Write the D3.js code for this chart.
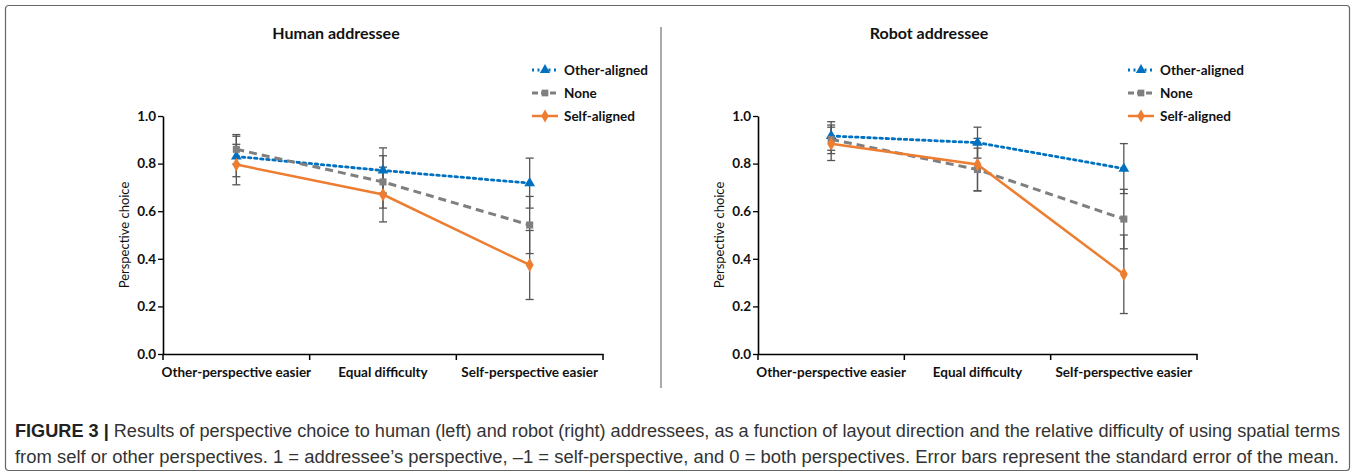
<!DOCTYPE html>
<html><head><meta charset="utf-8">
<script src="https://cdn.jsdelivr.net/npm/d3@7/dist/d3.min.js"></script>
<style>body{margin:0;background:#fff}svg{display:block}</style>
</head><body>
<script>
const categories = ["Other-perspective easier", "Equal difficulty", "Self-perspective easier"];
const seriesNames = ["Other-aligned", "None", "Self-aligned"];
const yTicks = [0, 0.2, 0.4, 0.6, 0.8, 1.0];
const panelTitles = ["Human addressee", "Robot addressee"];
// Human addressee
const humanOther = [0.83, 0.771, 0.718];
const humanNone = [0.86, 0.723, 0.542];
const humanSelf = [0.796, 0.670, 0.374];
const humanOtherErr = [0.085, 0.095, 0.105];
const humanNoneErr = [0.062, 0.11, 0.12];
const humanSelfErr = [0.085, 0.115, 0.145];
// Robot addressee
const robotOther = [0.916, 0.888, 0.779];
const robotNone = [0.902, 0.775, 0.567];
const robotSelf = [0.883, 0.796, 0.335];
const robotOtherErr = [0.06, 0.065, 0.105];
const robotNoneErr = [0.06, 0.09, 0.125];
const robotSelfErr = [0.07, 0.11, 0.165];
const captionBold = "FIGURE 3 |";
const captionLine1 = " Results of perspective choice to human (left) and robot (right) addressees, as a function of layout direction and the relative difficulty of using spatial terms";
const captionLine2 = "from self or other perspectives. 1 = addressee’s perspective, \u20131 = self-perspective, and 0 = both perspectives. Error bars represent the standard error of the mean.";

const W = 1355, H = 473;
const svg = d3.select("body").append("svg").attr("width", W).attr("height", H);
const font = "Lato, 'Open Sans', sans-serif";
const fs = 13.5;

// frame
svg.append("rect").attr("x", 5.5).attr("y", 5.5).attr("width", W - 11).attr("height", H - 8)
  .attr("rx", 3).attr("fill", "none").attr("stroke", "#666").attr("stroke-width", 1.2);
svg.append("line").attr("x1", 661).attr("x2", 661).attr("y1", 27).attr("y2", 388)
  .attr("stroke", "#aaa").attr("stroke-width", 2);

const colors = ["#0070C0", "#7F7F7F", "#ED7D31"];
const dashes = ["2.5,3.6", "8,5", null];
const widths = [2.8, 3, 2.5];
const markers = [d3.symbolTriangle, d3.symbolSquare, d3.symbolDiamond];
const markerSizes = [50, 50, 55];

const panels = [
  {x0: 163, x1: 603, title: 336, legX: 532,
   vals: [humanOther, humanNone, humanSelf], errs: [humanOtherErr, humanNoneErr, humanSelfErr]},
  {x0: 758, x1: 1197, title: 929, legX: 1128,
   vals: [robotOther, robotNone, robotSelf], errs: [robotOtherErr, robotNoneErr, robotSelfErr]}
];

panels.forEach((p, pi) => {
  const g = svg.append("g");
  const x = d3.scaleBand().domain(categories).range([p.x0, p.x1]);
  const y = d3.scaleLinear().domain([0, 1]).range([354, 116]);

  g.append("text").attr("x", p.title).attr("y", 39).attr("text-anchor", "middle")
    .attr("font-family", font).attr("font-weight", "bold").attr("font-size", 16).attr("fill", "#111")
    .text(panelTitles[pi]);

  // y axis
  const ya = g.append("g").attr("transform", `translate(${p.x0},0)`)
    .call(d3.axisLeft(y).tickValues(yTicks).tickFormat(d3.format(".1f")).tickSize(5).tickSizeOuter(0));
  ya.select(".domain").attr("stroke", "#000").attr("stroke-width", 1.6);
  ya.selectAll(".tick line").attr("stroke", "#000").attr("stroke-width", 1.3);
  ya.selectAll(".tick text").attr("font-family", font).attr("font-weight", "bold").attr("font-size", fs).attr("fill", "#111").attr("x", -7);

  // x axis
  const xa = g.append("g").attr("transform", `translate(0,354)`)
    .call(d3.axisBottom(x).tickSize(0).tickSizeOuter(0));
  xa.select(".domain").attr("stroke", "#000").attr("stroke-width", 1.6);
  xa.selectAll(".tick text").attr("font-family", font).attr("font-weight", "bold").attr("font-size", fs).attr("fill", "#111").attr("dy", "1.5em");
  const bounds = [p.x0, ...categories.map(c => x(c) + x.bandwidth())];
  g.selectAll(".xt").data(bounds).join("line").attr("x1", d => d).attr("x2", d => d)
    .attr("y1", 354).attr("y2", 360).attr("stroke", "#000").attr("stroke-width", 1.5);

  // y title
  g.append("text").attr("transform", `translate(${p.x0 - 34},235) rotate(-90)`).attr("text-anchor", "middle")
    .attr("font-family", font).attr("font-size", 13).attr("fill", "#111").text("Perspective choice");

  const cx = c => x(c) + x.bandwidth() / 2;

  // error bars
  p.vals.forEach((vals, si) => {
    vals.forEach((v, i) => {
      const e = p.errs[si][i];
      const xx = cx(categories[i]);
      g.append("line").attr("x1", xx).attr("x2", xx).attr("y1", y(v + e)).attr("y2", y(v - e))
        .attr("stroke", "#555").attr("stroke-width", 1.3);
      [v + e, v - e].forEach(t => g.append("line").attr("x1", xx - 4).attr("x2", xx + 4)
        .attr("y1", y(t)).attr("y2", y(t)).attr("stroke", "#555").attr("stroke-width", 1.3));
    });
  });

  // lines and markers
  p.vals.forEach((vals, si) => {
    const line = d3.line().x((d, i) => cx(categories[i])).y(d => y(d));
    g.append("path").datum(vals).attr("d", line).attr("fill", "none")
      .attr("stroke", colors[si]).attr("stroke-width", widths[si])
      .attr("stroke-dasharray", dashes[si]).attr("stroke-linecap", si === 0 ? "round" : "butt");
    g.selectAll(null).data(vals).join("path")
      .attr("d", d3.symbol().type(markers[si]).size(markerSizes[si]))
      .attr("transform", (d, i) => `translate(${cx(categories[i])},${y(d)})`)
      .attr("fill", colors[si]);
  });

  // legend
  seriesNames.forEach((n, si) => {
    const ly = 70 + si * 23;
    g.append("line").attr("x1", p.legX).attr("x2", p.legX + 26).attr("y1", ly).attr("y2", ly)
      .attr("stroke", colors[si]).attr("stroke-width", widths[si]).attr("stroke-dasharray", si === 0 ? "2,3.5" : (si === 1 ? "6,3" : null));
    g.append("path").attr("d", d3.symbol().type(markers[si]).size(markerSizes[si] * 0.9)())
      .attr("transform", `translate(${p.legX + 13},${ly})`).attr("fill", colors[si]);
    g.append("text").attr("x", p.legX + 32).attr("y", ly + 4.8)
      .attr("font-family", font).attr("font-weight", "bold").attr("font-size", fs).attr("fill", "#111").text(n);
  });
});

// caption
const capFont = "'Liberation Sans Narrow', 'Liberation Sans', sans-serif";
const t1 = svg.append("text").attr("x", 15).attr("y", 437).attr("font-family", capFont).attr("font-size", 17.5).attr("fill", "#333")
  .attr("textLength", 1325).attr("lengthAdjust", "spacingAndGlyphs");
t1.append("tspan").attr("font-weight", "bold").attr("fill", "#222").text(captionBold);
t1.append("tspan").text(captionLine1);
svg.append("text").attr("x", 15).attr("y", 463).attr("font-family", capFont).attr("font-size", 17.5).attr("fill", "#333")
  .attr("textLength", 1324).attr("lengthAdjust", "spacingAndGlyphs").text(captionLine2);
</script>
</body></html>
